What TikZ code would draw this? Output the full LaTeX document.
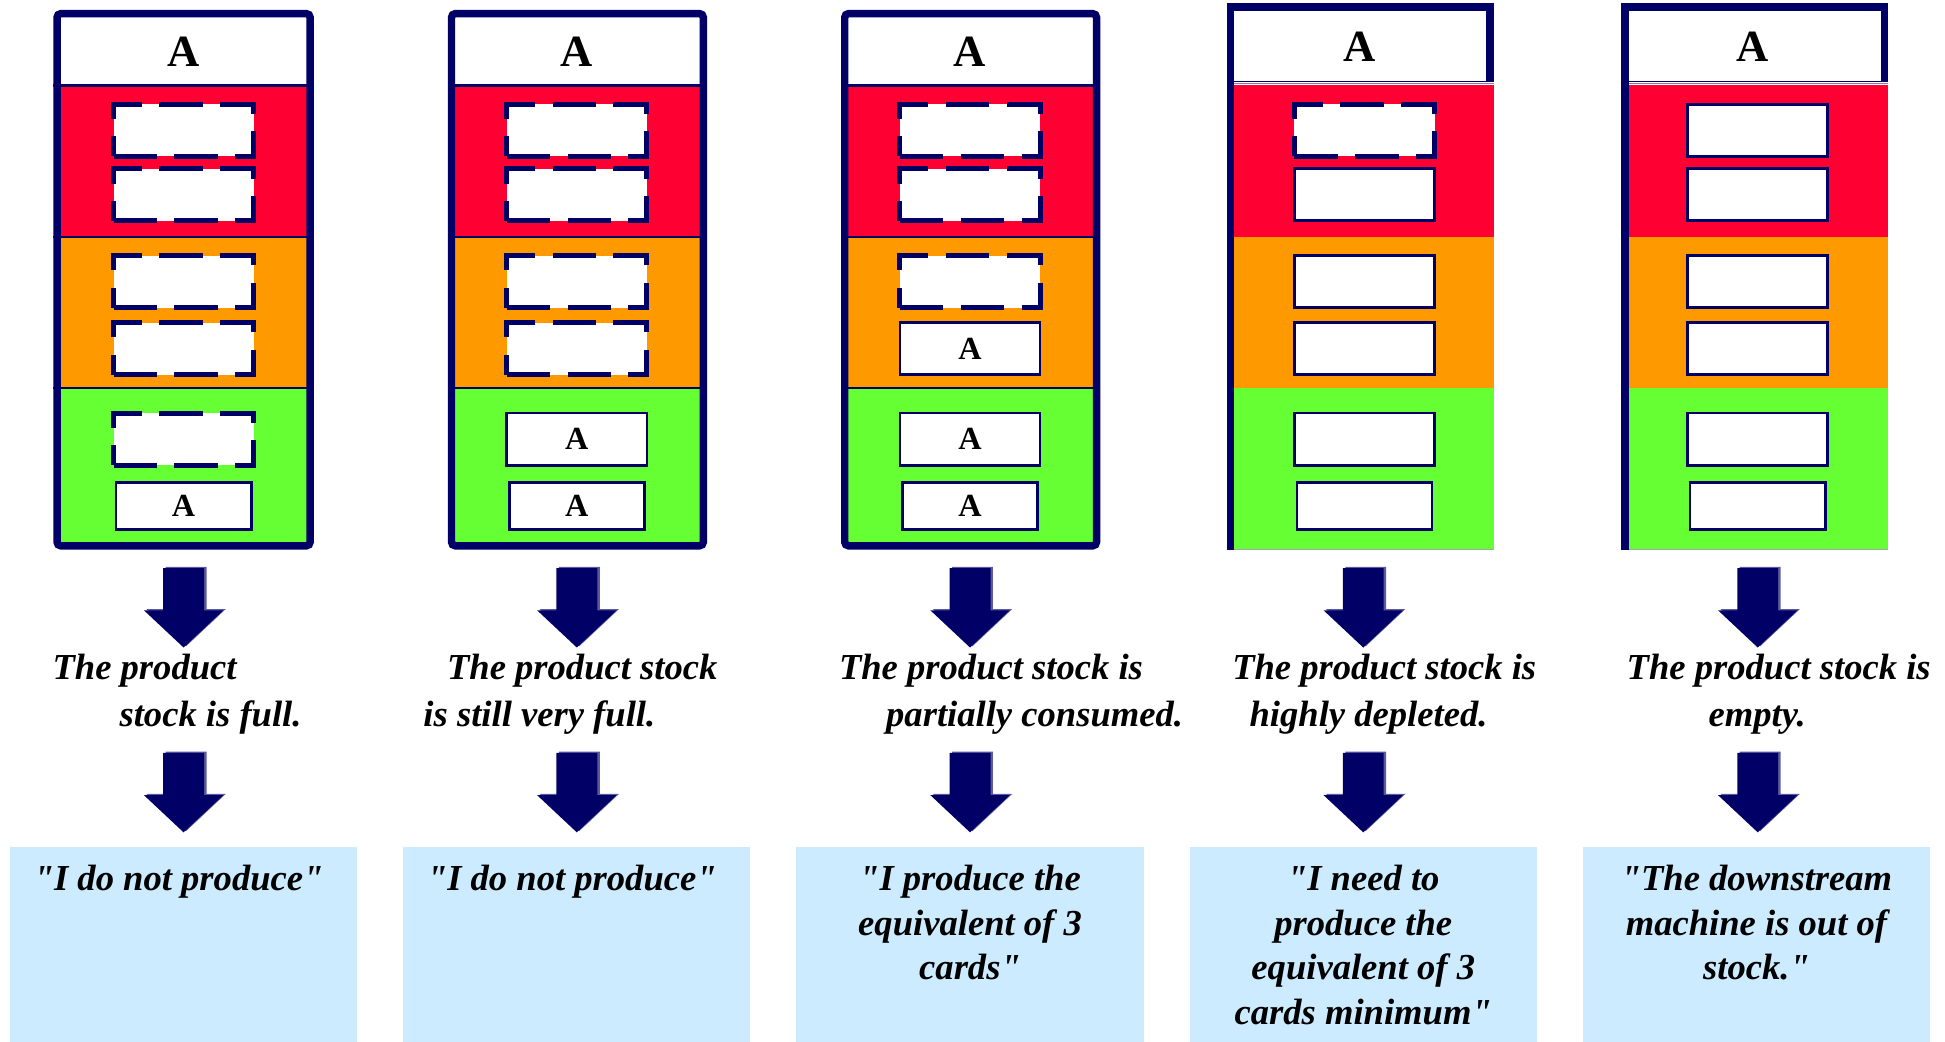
\documentclass[tikz,border=0pt]{standalone}
\usepackage{fontspec}
\setmainfont{Liberation Serif}[Ligatures=TeXOff]
\definecolor{navy}{HTML}{000066}
\definecolor{stockred}{HTML}{FF0033}
\definecolor{stockorange}{HTML}{FF9900}
\definecolor{stockgreen}{HTML}{66FF33}
\definecolor{quoteblue}{HTML}{CCEBFF}
\definecolor{arrowshade}{HTML}{5A5A9C}
% block arrow, centre x and top y
\newcommand{\stockarrow}[2]{%
  \begin{scope}[shift={(#1,#2)}]
    \fill[arrowshade] (-14.5,-1)--(18.5,-1)--(18.5,33)--(34,33)--(2,63)--(-30,33)--(-14.5,33)--cycle;
    \fill[navy] (-16.5,0)--(16.5,0)--(16.5,34)--(32,34)--(0,64)--(-32,34)--(-16.5,34)--cycle;
  \end{scope}}
\begin{document}
\begin{tikzpicture}[x=0.5pt,y=-0.5pt,line join=miter]
\tikzset{
  frame/.style={draw=navy,line width=3pt},
  sep/.style={draw=navy,line width=0.9pt},
  header/.style={inner sep=0pt,font=\bfseries\fontsize{18}{18}\selectfont},
  fullslot/.style={draw=navy,fill=white,line width=1.1pt,minimum width=56.5pt,minimum height=21pt,inner sep=0pt,font=\bfseries\fontsize{13}{13}\selectfont},
  lowslot/.style={fullslot,minimum width=54.5pt,minimum height=19pt},
  emptyslot/.style={fullslot,line width=2pt,dash pattern=on 17.5pt off 7pt},
  caption/.style={inner sep=0pt,anchor=base west,font=\bfseries\itshape\fontsize{14.75}{18.25}\selectfont},
  quote/.style={inner sep=0pt,anchor=north,align=center,font=\bfseries\itshape\fontsize{14.75}{18}\selectfont}
}
\useasboundingbox (0,0) rectangle (1568,840);

% framed boards
\foreach \l/\r in {43/253,361/570,678/887}{
  \fill[white] (\l+3,11) rectangle (\r-3,69);
  \fill[stockred] (\l+3,69) rectangle (\r-3,191);
  \fill[stockorange] (\l+3,191) rectangle (\r-3,313);
  \fill[stockgreen] (\l+3,313) rectangle (\r-3,440);
  \draw[sep] (\l,69) -- (\r,69) (\l,191) -- (\r,191) (\l,313) -- (\r,313);
  \draw[frame,rounded corners=1.5pt] (\l+3,11) rectangle (\r-3,440);
}
% open boards
\foreach \l/\r in {989/1204,1307/1522}{
  \fill[white] (\l+3,8) rectangle (\r-3,66);
  \fill[stockred] (\l+3,68.5) rectangle (\r,191);
  \fill[stockorange] (\l+3,191) rectangle (\r,313);
  \fill[stockgreen] (\l+3,313) rectangle (\r,443);
  \draw[navy,line width=0.6pt] (\l,65.5) -- (\r,65.5);
  \draw[navy!50,line width=0.4pt] (\l,67.5) -- (\r,67.5);
  \draw[gray!70,line width=0.4pt] (\l,443) -- (\r,443);
  \draw[frame] (\l+3,443) -- (\l+3,5.5) -- (\r-3,5.5) -- (\r-3,66);
}

\node[header] (h1) at (148,42) {A};
\node[header] (h2) at (465,42) {A};
\node[header] (h3) at (782,42) {A};
\node[header] (h4) at (1096,38) {A};
\node[header] (h5) at (1413,38) {A};

% board 1
\node[emptyslot] (c1s1) at (148,105) {};
\node[emptyslot] (c1s2) at (148,157) {};
\node[emptyslot] (c1s3) at (148,227) {};
\node[emptyslot] (c1s4) at (148,281) {};
\node[emptyslot] (c1s5) at (148,354) {};
\node[lowslot] (c1s6) at (148,408) {A};
% board 2
\node[emptyslot] (c2s1) at (465,105) {};
\node[emptyslot] (c2s2) at (465,157) {};
\node[emptyslot] (c2s3) at (465,227) {};
\node[emptyslot] (c2s4) at (465,281) {};
\node[fullslot] (c2s5) at (465,354) {A};
\node[lowslot] (c2s6) at (465,408) {A};
% board 3
\node[emptyslot] (c3s1) at (782,105) {};
\node[emptyslot] (c3s2) at (782,157) {};
\node[emptyslot] (c3s3) at (782,227) {};
\node[fullslot] (c3s4) at (782,281) {A};
\node[fullslot] (c3s5) at (782,354) {A};
\node[lowslot] (c3s6) at (782,408) {A};
% board 4
\node[emptyslot] (c4s1) at (1100,105) {};
\node[fullslot] (c4s2) at (1100,157) {};
\node[fullslot] (c4s3) at (1100,227) {};
\node[fullslot] (c4s4) at (1100,281) {};
\node[fullslot] (c4s5) at (1100,354) {};
\node[lowslot] (c4s6) at (1100,408) {};
% board 5
\node[fullslot] (c5s1) at (1417,105) {};
\node[fullslot] (c5s2) at (1417,157) {};
\node[fullslot] (c5s3) at (1417,227) {};
\node[fullslot] (c5s4) at (1417,281) {};
\node[fullslot] (c5s5) at (1417,354) {};
\node[lowslot] (c5s6) at (1417,408) {};

% arrows
\foreach \cx in {148,465,782,1099,1417}{
  \stockarrow{\cx}{458}
  \stockarrow{\cx}{607}
}

% captions
\node[caption] (t1a) at (42,548) {The product};
\node[caption] (t1b) at (96,586) {stock is full.};
\node[caption] (t2a) at (360,548) {The product stock};
\node[caption] (t2b) at (341,586) {is still very full.};
\node[caption] (t3a) at (676,548) {The product stock is};
\node[caption] (t3b) at (714,586) {partially consumed.};
\node[caption] (t4a) at (993,548) {The product stock is};
\node[caption] (t4b) at (1007,586) {highly depleted.};
\node[caption] (t5a) at (1311,548) {The product stock is};
\node[caption] (t5b) at (1377,586) {empty.};

% answer boxes
\foreach \cx in {148,465,782,1099,1416}{
  \fill[quoteblue] (\cx-140,683) rectangle (\cx+140,840);
}
\node[quote] (q1) at (144,697) {"I do not produce"};
\node[quote] (q2) at (461,697) {"I do not produce"};
\node[quote] (q3) at (782,697) {"I produce the\\equivalent of 3\\cards"};
\node[quote] (q4) at (1099,697) {"I need to\\produce the\\equivalent of 3\\cards minimum"};
\node[quote] (q5) at (1416,697) {"The downstream\\machine is out of\\stock."};
\end{tikzpicture}
\end{document}
